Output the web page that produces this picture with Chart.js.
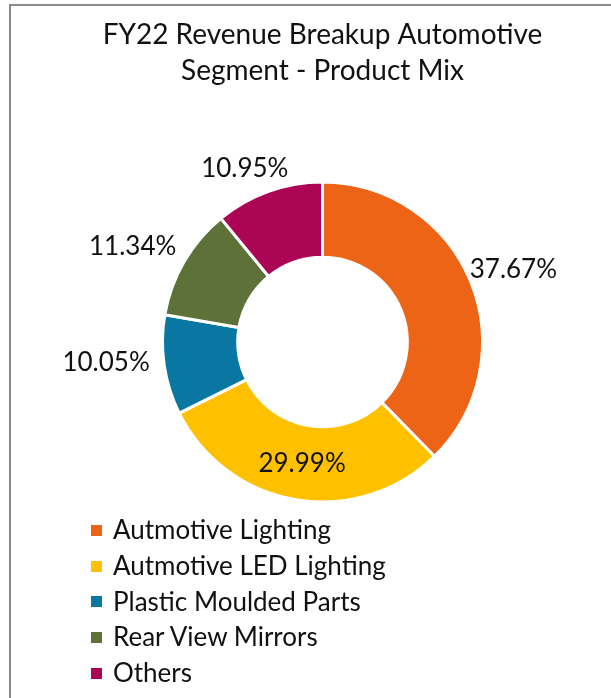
<!DOCTYPE html>
<html>
<head>
<meta charset="utf-8">
<script src="https://cdn.jsdelivr.net/npm/chart.js@4.4.1/dist/chart.umd.min.js"></script>
<style>
    html, body { margin: 0; padding: 0; background: #fff; overflow: hidden; }
    body { width: 611px; height: 698px; position: relative; font-family: Lato, sans-serif; }
    .frame { position: absolute; left: 9px; top: 4px; width: 800px; height: 900px; border: 2px solid #8a8a8a; }
    #chartWrap { position: absolute; left: 0; top: 0; width: 611px; height: 698px; }
    #legend { position: absolute; left: 91px; top: 512px; margin: 0; padding: 0; list-style: none; }
    #legend li { height: 35.75px; line-height: 35.75px; font-size: 26px; color: #111; white-space: nowrap; }
    #legend span.box { display: inline-block; width: 11px; height: 11px; margin-right: 11px; vertical-align: middle; position: relative; top: -2px; }
</style>
</head>
<body>
<div class="frame"></div>
<div id="chartWrap"><canvas id="productMix"></canvas></div>
<ul id="legend"></ul>
<script>
// Chart data
const categories = ['Autmotive Lighting', 'Autmotive LED Lighting', 'Plastic Moulded Parts', 'Rear View Mirrors', 'Others'];
const shares = [37.67, 29.99, 10.05, 11.34, 10.95];
const sliceColors = ['#EE6417', '#FFC000', '#0877A1', '#5D7139', '#AD0556'];
const chartTitle = ['FY22 Revenue Breakup Automotive', 'Segment - Product Mix'];

document.addEventListener('DOMContentLoaded', function() {
    // Percent labels drawn next to each arc
    const sliceLabels = {
        id: 'sliceLabels',
        afterDatasetsDraw(chart, args, opts) {
            const ctx = chart.ctx;
            const meta = chart.getDatasetMeta(0);
            ctx.save();
            ctx.font = opts.font;
            ctx.fillStyle = opts.color;
            ctx.textAlign = 'center';
            ctx.textBaseline = 'middle';
            meta.data.forEach((arc, i) => {
                const p = arc.getProps(['x', 'y', 'startAngle', 'endAngle', 'innerRadius', 'outerRadius'], true);
                const mid = (p.startAngle + p.endAngle) / 2;
                const dx = Math.cos(mid), dy = Math.sin(mid);
                const text = shares[i].toFixed(2) + '%';
                let x, y;
                if (opts.inside.includes(i)) {
                    const r = (p.innerRadius + p.outerRadius) / 2;
                    x = p.x + dx * r;
                    y = p.y + dy * r;
                } else {
                    const w = ctx.measureText(text).width;
                    const r = p.outerRadius + opts.gap;
                    x = p.x + dx * r + dx * w / 2 + opts.shift[0];
                    y = p.y + dy * r + dy * opts.boxHeight / 2 + opts.shift[1];
                }
                ctx.fillText(text, x, y + 1);
            });
            ctx.restore();
        }
    };

    const ctx = document.getElementById('productMix').getContext('2d');
    new Chart(ctx, {
        type: 'doughnut',
        data: {
            labels: categories,
            datasets: [{
                data: shares,
                backgroundColor: sliceColors,
                borderColor: '#ffffff',
                borderWidth: 3
            }]
        },
        options: {
            responsive: true,
            maintainAspectRatio: false,
            animation: false,
            radius: 160,
            cutout: '53%',
            layout: {
                padding: { left: 34, right: 0, top: 0, bottom: 114 }
            },
            plugins: {
                legend: { display: false },
                tooltip: { enabled: false },
                title: {
                    display: true,
                    text: chartTitle,
                    color: '#111',
                    font: { family: 'Lato', size: 28, weight: 'normal', lineHeight: 1.32 },
                    padding: { top: 16, bottom: 10 }
                },
                sliceLabels: {
                    font: '26px Lato',
                    color: '#111',
                    gap: 9,
                    boxHeight: 20,
                    shift: [-6, -6],
                    inside: [1]
                }
            }
        },
        plugins: [sliceLabels]
    });

    // Legend as a vertical list
    const legend = document.getElementById('legend');
    categories.forEach((name, i) => {
        const li = document.createElement('li');
        const box = document.createElement('span');
        box.className = 'box';
        box.style.background = sliceColors[i];
        li.appendChild(box);
        li.appendChild(document.createTextNode(name));
        legend.appendChild(li);
    });
});
</script>
</body>
</html>
